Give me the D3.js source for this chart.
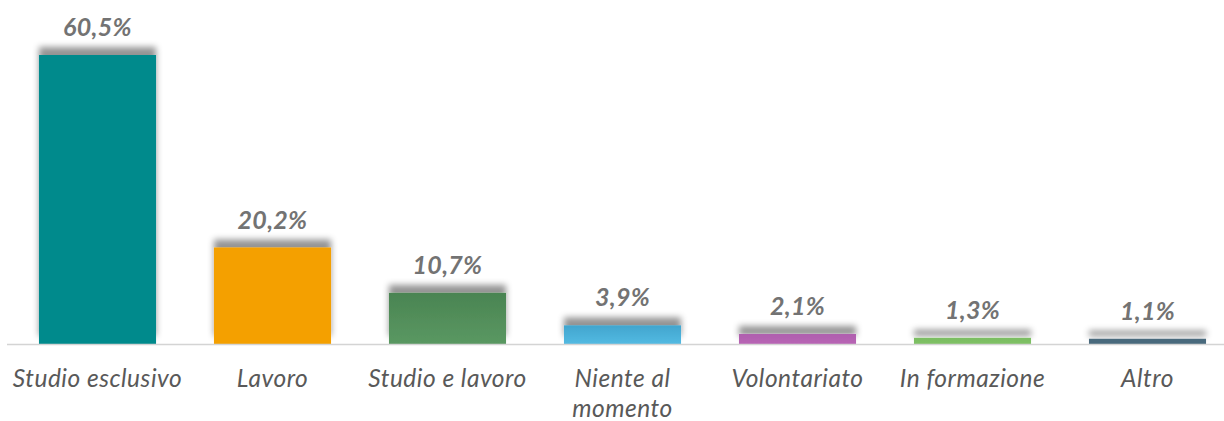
<!DOCTYPE html>
<html><head><meta charset="utf-8">
<script src="https://cdn.jsdelivr.net/npm/d3@7"></script>
<style>
html,body{margin:0;padding:0;background:#fff;}
svg{display:block;}
</style></head>
<body>
<svg id="chart" width="1224" height="421"></svg>
<script>
const categories = ["Studio esclusivo", "Lavoro", "Studio e lavoro", "Niente al momento", "Volontariato", "In formazione", "Altro"];
const categoryLines = [["Studio esclusivo"], ["Lavoro"], ["Studio e lavoro"], ["Niente al", "momento"], ["Volontariato"], ["In formazione"], ["Altro"]];
const values = [60.5, 20.2, 10.7, 3.9, 2.1, 1.3, 1.1];
const valueLabels = ["60,5%", "20,2%", "10,7%", "3,9%", "2,1%", "1,3%", "1,1%"];
const colorsTop = ["#028A8C", "#F4A000", "#4A8452", "#41A5CE", "#AF5FAE", "#7BBD62", "#4A6A7D"];
const colorsBottom = ["#028A8C", "#F4A000", "#5A9862", "#53BAE2", "#B865B5", "#7FC165", "#4A6A7D"];

const svg = d3.select("#chart");
const baseY = 344;
const x = d3.scaleBand().domain(categories).range([10, 1235]).paddingInner(0.331).paddingOuter(0.1655);
const y = d3.scaleLinear().domain([0, 60.5]).range([baseY, 55]);

const defs = svg.append("defs");
const f = defs.append("filter").attr("id", "shadow")
  .attr("filterUnits", "userSpaceOnUse")
  .attr("x", 0).attr("y", 0).attr("width", 1224).attr("height", 421);
f.append("feGaussianBlur").attr("in", "SourceAlpha").attr("stdDeviation", 3.2).attr("result", "b");
f.append("feOffset").attr("in", "b").attr("dx", 0).attr("dy", -8).attr("result", "o");
f.append("feFlood").attr("flood-color", "#000").attr("flood-opacity", 0.42).attr("result", "c");
f.append("feComposite").attr("in", "c").attr("in2", "o").attr("operator", "in").attr("result", "s");
const m = f.append("feMerge");
m.append("feMergeNode").attr("in", "s");
m.append("feMergeNode").attr("in", "SourceGraphic");

categories.forEach((c, i) => {
  const g = defs.append("linearGradient").attr("id", "g" + i).attr("x1", 0).attr("y1", 0).attr("x2", 0).attr("y2", 1);
  g.append("stop").attr("offset", "0%").attr("stop-color", colorsTop[i]);
  g.append("stop").attr("offset", "100%").attr("stop-color", colorsBottom[i]);
});

svg.selectAll("rect.bar").data(values).enter().append("rect")
  .attr("class", "bar")
  .attr("x", (d, i) => x(categories[i]))
  .attr("width", x.bandwidth())
  .attr("y", d => y(d))
  .attr("height", d => baseY - y(d))
  .attr("fill", (d, i) => `url(#g${i})`)
  .attr("filter", "url(#shadow)");

// axis line
svg.append("line").attr("x1", 7).attr("x2", 1224).attr("y1", baseY + 0.5).attr("y2", baseY + 0.5)
  .attr("stroke", "#D4D4D4").attr("stroke-width", 1.6);

svg.selectAll("text.val").data(values).enter().append("text")
  .attr("class", "val")
  .attr("x", (d, i) => x(categories[i]) + x.bandwidth() / 2)
  .attr("y", d => y(d) - 19)
  .attr("text-anchor", "middle")
  .attr("font-family", "Lato, 'Open Sans', sans-serif")
  .attr("font-size", 25)
  .attr("font-weight", "bold")
  .attr("font-style", "italic")
  .attr("letter-spacing", 0.3)
  .attr("fill", "#737373")
  .text((d, i) => valueLabels[i]);

const cat = svg.selectAll("text.cat").data(categories).enter().append("text")
  .attr("class", "cat")
  .attr("x", c => x(c) + x.bandwidth() / 2)
  .attr("y", 387)
  .attr("text-anchor", "middle")
  .attr("font-family", "Lato, 'Open Sans', sans-serif")
  .attr("font-size", 24.5)
  .attr("font-style", "italic")
  .attr("letter-spacing", 0.5)
  .attr("fill", "#595959");
cat.each(function(c, i) {
  const t = d3.select(this);
  categoryLines[i].forEach((line, j) => {
    t.append("tspan").attr("x", x(c) + x.bandwidth() / 2).attr("dy", j === 0 ? 0 : 30).text(line);
  });
});
</script>
</body></html>
